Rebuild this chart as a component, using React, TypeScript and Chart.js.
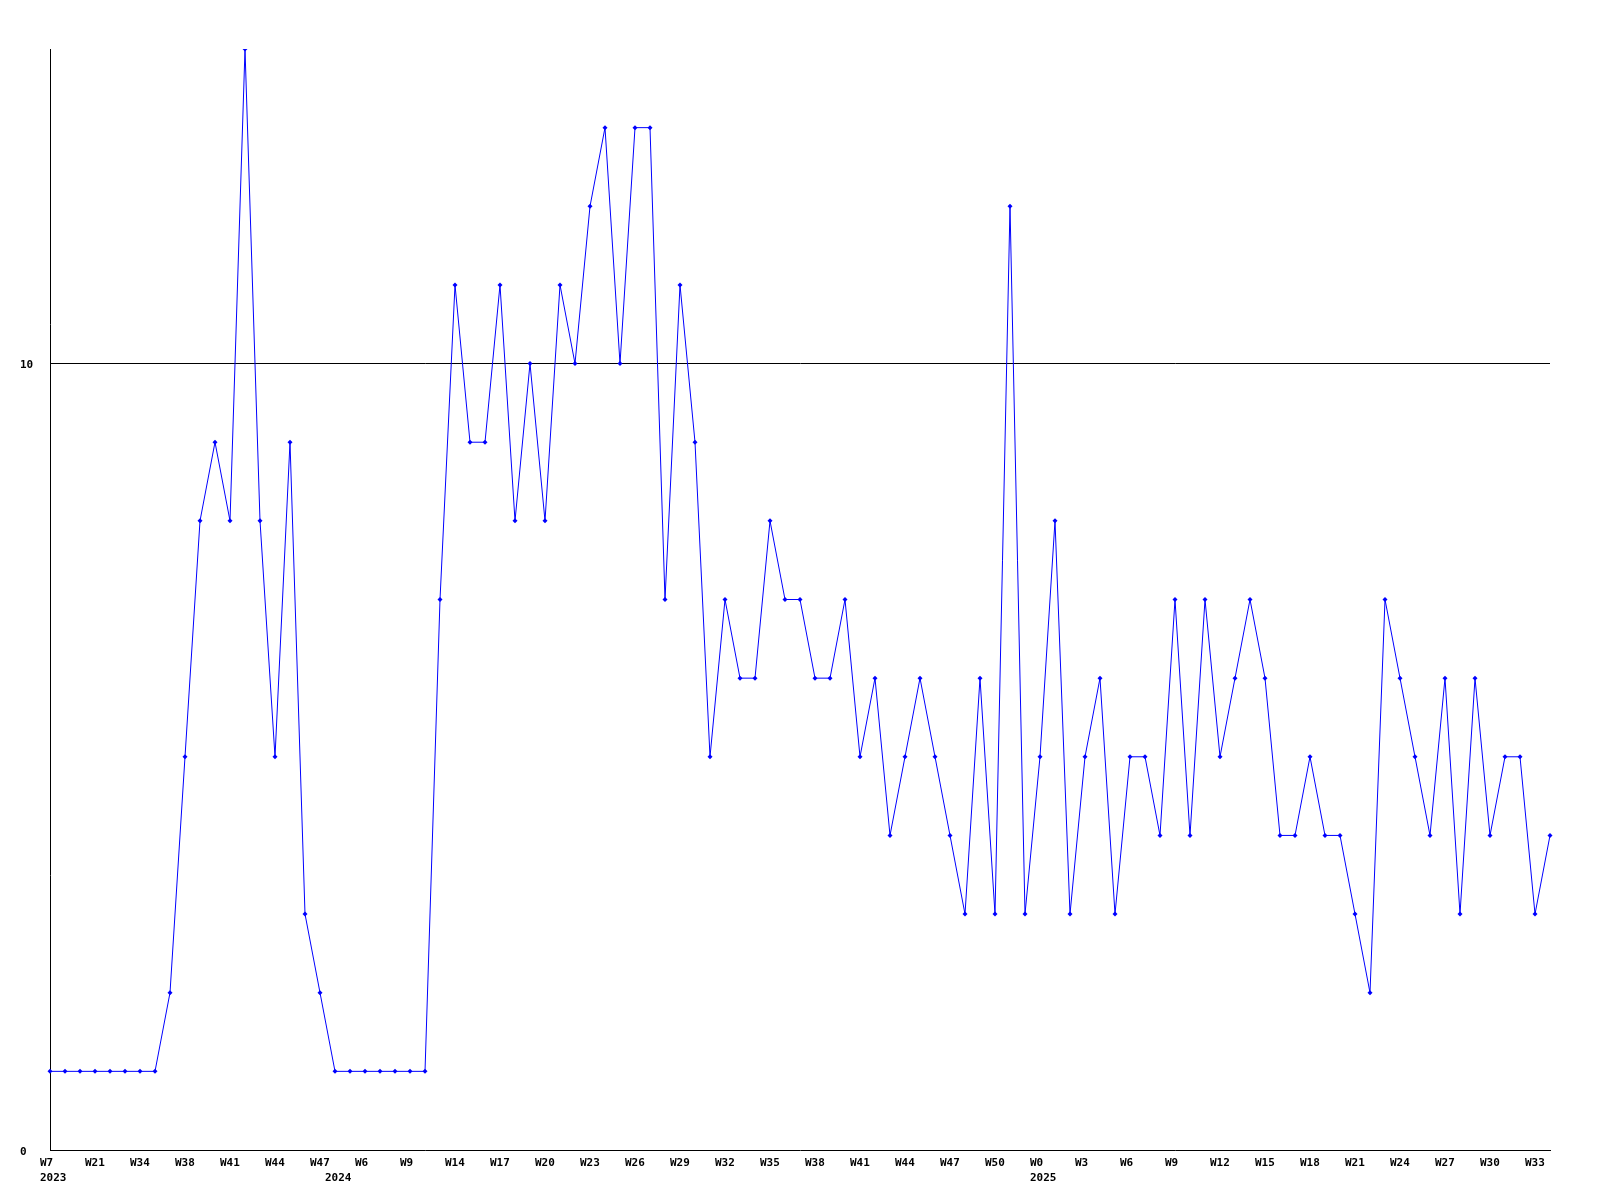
import React, { useEffect, useRef } from "react";
import { Chart, registerables } from "chart.js";

Chart.register(...registerables);

// Labels shown under every third point
const tickLabels = [
  "W7", "W21", "W34", "W38", "W41", "W44", "W47", "W6", "W9", "W14", "W17", "W20",
  "W23", "W26", "W29", "W32", "W35", "W38", "W41", "W44", "W47", "W50", "W0", "W3",
  "W6", "W9", "W12", "W15", "W18", "W21", "W24", "W27", "W30", "W33",
];
// Year shown on a second line, keyed by point index
const yearLabels: Record<number, string> = { 0: "2023", 19: "2024", 66: "2025" };

const values = [
  1, 1, 1, 1, 1, 1, 1, 1, 2, 5, 8, 9, 8, 14, 8, 5, 9, 3, 2, 1,
  1, 1, 1, 1, 1, 1, 7, 11, 9, 9, 11, 8, 10, 8, 11, 10, 12, 13, 10, 13,
  13, 7, 11, 9, 5, 7, 6, 6, 8, 7, 7, 6, 6, 7, 5, 6, 4, 5, 6, 5,
  4, 3, 6, 3, 12, 3, 5, 8, 3, 5, 6, 3, 5, 5, 4, 7, 4, 7, 5, 6,
  7, 6, 4, 4, 5, 4, 4, 3, 2, 7, 6, 5, 4, 6, 3, 6, 4, 5, 5, 3,
  4,
];

const yMin = 0;
const yMax = 14;
const yTicks = [0, 10];

export default function App() {
  const ref = useRef<HTMLCanvasElement | null>(null);

  useEffect(() => {
    document.body.style.margin = "0";
    const categories = values.map((_, i) => {
      const lbl = i % 3 === 0 ? tickLabels[i / 3] ?? "" : "";
      return yearLabels[i] ? [lbl, yearLabels[i]] : lbl;
    });
    const chart = new Chart(ref.current!, {
      type: "line",
      data: {
        labels: categories as any,
        datasets: [
          {
            data: values,
            borderColor: "#0000ff",
            backgroundColor: "#0000ff",
            borderWidth: 1,
            pointStyle: "rectRot",
            pointRadius: 2.5,
            pointBorderWidth: 0,
            tension: 0,
            fill: false,
          },
        ],
      },
      options: {
        animation: false,
        responsive: false,
        maintainAspectRatio: false,
        layout: { padding: { left: 20, right: 50, top: 49, bottom: 0 } },
        plugins: { legend: { display: false }, tooltip: { enabled: false } },
        scales: {
          x: {
            type: "category",
            offset: false,
            grid: { display: false, drawTicks: false },
            border: { display: true, color: "#000", width: 1 },
            ticks: {
              autoSkip: false,
              maxRotation: 0,
              minRotation: 0,
              align: "start",
              labelOffset: -10,
              padding: 6,
              color: "#000",
              font: { family: "'DejaVu Sans Mono', monospace", size: 11, weight: "bold", lineHeight: 1.36 },
            },
            afterFit: (s: any) => {
              s.height = 50;
            },
          },
          y: {
            min: yMin,
            max: yMax,
            grid: {
              drawTicks: false,
              color: (ctx: any) => (ctx.tick && ctx.tick.value === 10 ? "#000" : "rgba(0,0,0,0)"),
              lineWidth: 1,
            },
            border: { display: true, color: "#000", width: 1 },
            afterBuildTicks: (s: any) => {
              s.ticks = yTicks.map((v) => ({ value: v }));
            },
            ticks: {
              crossAlign: "far",
              labelOffset: 2,
              color: "#000",
              font: { family: "'DejaVu Sans Mono', monospace", size: 11, weight: "bold" },
            },
            afterFit: (s: any) => {
              s.width = 30;
            },
          },
        },
      },
    });
    return () => chart.destroy();
  }, []);

  return <canvas ref={ref} width={1600} height={1200} style={{ display: "block" }} />;
}
